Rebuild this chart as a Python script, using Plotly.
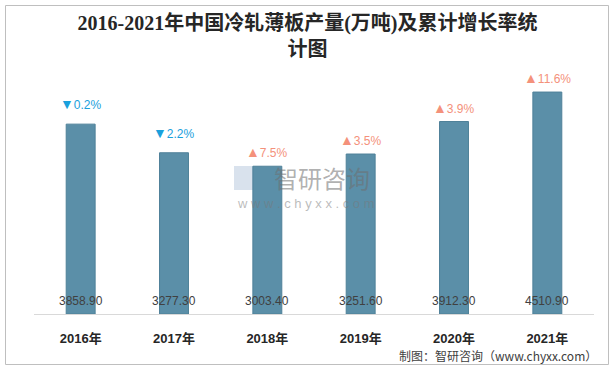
import plotly.graph_objects as go

years = ["2016年", "2017年", "2018年", "2019年", "2020年", "2021年"]
output = [3858.90, 3277.30, 3003.40, 3251.60, 3912.30, 4510.90]
growth = [-0.2, -2.2, 7.5, 3.5, 3.9, 11.6]

W, H = 615, 369
PL, PR, PT, PB = 34, 594, 68, 314  # plot area in pixels

def fx(x):
    return x / W

def fy(y):
    return 1 - y / H

fig = go.Figure()
fig.add_trace(go.Bar(
    x=years, y=output, width=0.31,
    marker=dict(color="#5b8fa8", line=dict(color="#4f8199", width=1)),
    hoverinfo="skip",
))

ann = []
for yr, v, g in zip(years, output, growth):
    ann.append(dict(x=yr, y=0, text=f"{v:.2f}", showarrow=False, yanchor="bottom", yshift=4,
                    font=dict(family="Liberation Sans, Arial", size=12, color="#404040")))
    if g < 0:
        sym, col, ys = "▼", "#1aa0dc", 20
    else:
        sym, col, ys = "▲", "#f4917b", 14
    txt = f"<span style='font-size:14px'>{sym}</span>{abs(g):.1f}%"
    ann.append(dict(x=yr, y=v, text=txt, showarrow=False, yanchor="middle", yshift=ys,
                    font=dict(family="Liberation Sans, Arial", size=12, color=col)))

# watermark
ann.append(dict(xref="paper", yref="paper", x=fx(322), y=fy(177), text="智研咨询", showarrow=False,
                font=dict(family="Noto Sans CJK SC", size=24, color="rgba(110,110,110,0.55)")))
ann.append(dict(xref="paper", yref="paper", x=fx(306), y=fy(203), text="w w w . c h y x x . c o m", showarrow=False,
                font=dict(family="Liberation Sans, Arial", size=13, color="rgba(120,120,120,0.5)")))
# source
ann.append(dict(xref="paper", yref="paper", x=fx(599), y=fy(355), xanchor="right", yanchor="middle",
                text="制图：智研咨询（www.chyxx.com）",
                showarrow=False, font=dict(family="Noto Sans CJK SC", size=12, color="#404040")))

shapes = [
    dict(type="rect", xref="paper", yref="paper", x0=fx(5.5), x1=fx(608.5), y0=fy(364.5), y1=fy(5.5),
         line=dict(color="#bfbfbf", width=1), layer="below"),
    dict(type="rect", xref="paper", yref="paper", x0=fx(234), x1=fx(262), y0=fy(190), y1=fy(166),
         line=dict(width=0), fillcolor="rgba(170,190,215,0.45)", layer="below"),
]

fig.update_layout(
    width=W, height=H,
    margin=dict(l=0, r=0, t=0, b=0),
    paper_bgcolor="white", plot_bgcolor="white",
    showlegend=False,
    title=dict(text="<b>2016-2021年中国冷轧薄板产量(万吨)及累计增长率统<br>计图</b>",
               x=0.5, xref="paper", y=1 - 30 / H, yanchor="middle", xanchor="center",
               font=dict(family="Liberation Serif, Noto Sans CJK SC", size=20, color="#262626")),
    xaxis=dict(domain=[fx(PL), fx(PR)], showline=True, linecolor="#d9d9d9", linewidth=1, ticks="",
               showgrid=False, automargin=False,
               tickfont=dict(family="Liberation Sans, Noto Sans CJK SC", size=13, color="#262626", weight="bold"),
               ticklabelstandoff=12),
    yaxis=dict(domain=[fy(PB), fy(PT)], range=[0, 5000], visible=False, showgrid=False, zeroline=False,
               automargin=False),
    annotations=ann,
    shapes=shapes,
    bargap=0.69,
)

fig.write_html("out.html", config={"displayModeBar": False},
               post_script="document.body.style.margin='0';document.body.style.overflow='hidden';")
